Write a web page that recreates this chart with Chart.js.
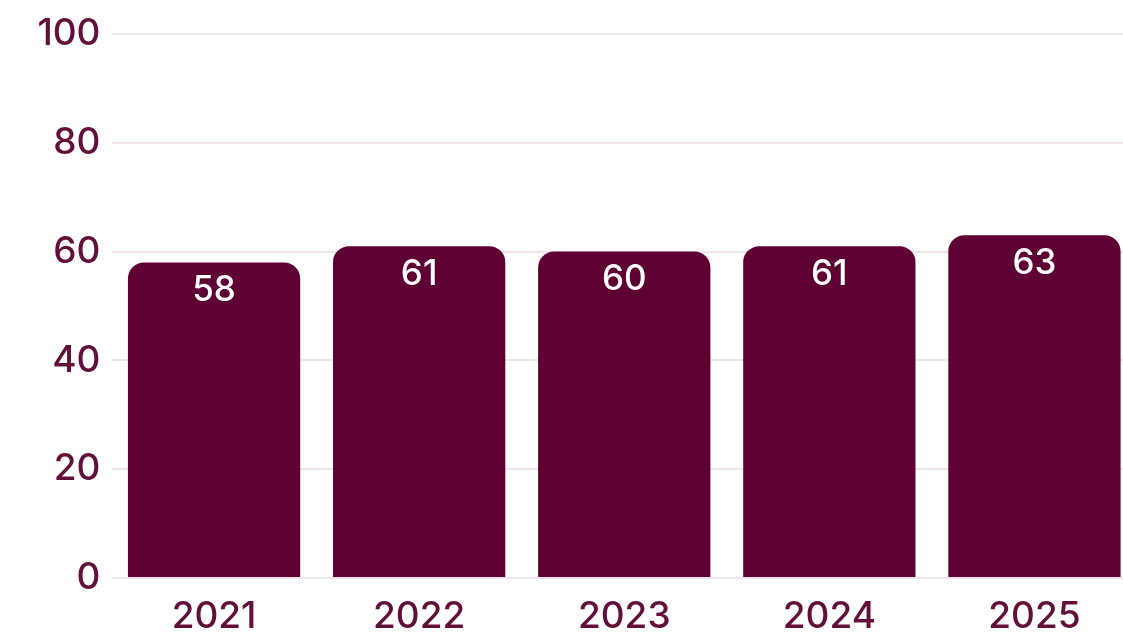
<!DOCTYPE html>
<html>
<head>
<meta charset="utf-8">
<script src="https://cdn.jsdelivr.net/npm/chart.js@4"></script>
<style>
  html, body { margin: 0; padding: 0; background: #fff; overflow: hidden; }
  #wrap { width: 1123px; height: 636px; overflow: hidden; }
</style>
</head>
<body>
<div id="wrap"><canvas id="grafica" width="1137" height="636"></canvas></div>
<script>
var anios = ["2021", "2022", "2023", "2024", "2025"]
var valores = [58, 61, 60, 61, 63]
var ticksY = [0, 20, 40, 60, 80, 100]

var colorBarra = "#5e0034"
var colorTexto = "#62103a"

// etiquetas blancas dentro de cada barra
var etiquetasBarras = {
    id: "etiquetasBarras",
    afterDatasetsDraw: function (chart) {
        var ctx = chart.ctx
        var meta = chart.getDatasetMeta(0)
        ctx.save()
        ctx.fillStyle = "#ffffff"
        ctx.font = "500 35px Inter"
        ctx.textAlign = "center"
        ctx.textBaseline = "middle"
        meta.data.forEach(function (barra, i) {
            ctx.fillText(valores[i], barra.x, barra.y + 28)
        })
        ctx.restore()
    }
}

var ctx = document.getElementById("grafica").getContext("2d")
new Chart(ctx, {
    type: "bar",
    data: {
        labels: anios,
        datasets: [{
            data: valores,
            backgroundColor: colorBarra,
            borderRadius: 16,
            categoryPercentage: 1,
            barPercentage: 0.84
        }]
    },
    options: {
        responsive: false,
        animation: false,
        layout: { padding: { top: 34, right: 0, left: 0, bottom: 0 } },
        plugins: { legend: { display: false }, tooltip: { enabled: false } },
        scales: {
            x: {
                grid: { display: false },
                border: { display: false },
                ticks: { color: colorTexto, font: { family: "Inter", size: 37, weight: "500" }, padding: 9 },
                afterFit: function (scale) { scale.height = 58 }
            },
            y: {
                min: 0,
                max: 100,
                afterBuildTicks: function (scale) {
                    scale.ticks = ticksY.map(function (v) { return { value: v } })
                },
                grid: { color: "#f1e4e9", lineWidth: 2, drawTicks: false },
                border: { display: false },
                ticks: { color: colorTexto, font: { family: "Inter", size: 37, weight: "500" }, padding: 11 },
                afterFit: function (scale) { scale.width = 111.5 }
            }
        }
    },
    plugins: [etiquetasBarras]
})
</script>
</body>
</html>
